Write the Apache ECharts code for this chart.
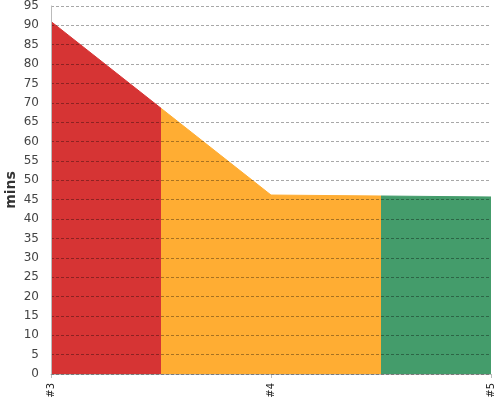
<!DOCTYPE html>
<html><head><meta charset="utf-8">
<script src="https://cdn.jsdelivr.net/npm/echarts@6/dist/echarts.min.js"></script>
<style>html,body{margin:0;padding:0;background:#fff}#c{width:500px;height:400px}</style>
</head><body><div id="c"></div>
<script>
const categories = ['#3', '#4', '#5'];
const values = [91, 46.2, 45.7];
const yTicks = {min: 0, max: 95, interval: 5};
const sectionBreaks = [0.5, 1.5];
const sectionColors = ['#d63434', '#ffad33', '#449c6b'];

const chart = echarts.init(document.getElementById('c'));
chart.setOption({
  animation: false,
  backgroundColor: '#fff',
  grid: {left: 51, right: 9, top: 6, bottom: 26, containLabel: false, outerBoundsMode: 'none'},
  xAxis: {
    type: 'value', min: 0, max: categories.length - 1, interval: 1,
    offset: 4,
    axisLine: {show: true, lineStyle: {color: '#bbb'}},
    axisTick: {show: true, length: 4, lineStyle: {color: '#bbb'}},
    splitLine: {show: false},
    axisLabel: {rotate: 90, fontSize: 10, color: '#222', fontFamily: 'DejaVu Sans', margin: 5,
      formatter: v => categories[Math.round(v)] || ''}
  },
  yAxis: {
    type: 'value', min: yTicks.min, max: yTicks.max, interval: yTicks.interval,
    offset: 4, z: 5,
    name: 'mins', nameLocation: 'middle', nameGap: 29, nameMoveOverlap: false,
    nameTextStyle: {fontSize: 14, fontWeight: 'bold', color: '#333', fontFamily: 'DejaVu Sans'},
    axisLine: {show: true, lineStyle: {color: '#bbb'}},
    axisTick: {show: false},
    axisLabel: {fontSize: 12, color: '#444', fontFamily: 'DejaVu Sans', margin: 8},
    splitLine: {show: true, lineStyle: {color: 'rgba(0,0,0,0.34)', type: [3, 2], width: 1}}
  },
  visualMap: {
    type: 'piecewise', show: false, dimension: 0,
    pieces: [
      {lt: sectionBreaks[0], color: sectionColors[0]},
      {gte: sectionBreaks[0], lt: sectionBreaks[1], color: sectionColors[1]},
      {gte: sectionBreaks[1], color: sectionColors[2]}
    ]
  },
  series: [{
    type: 'line',
    data: values.map((v, i) => [i, v]),
    showSymbol: false,
    lineStyle: {width: 1},
    areaStyle: {opacity: 1},
    z: 2
  }]
});
</script></body></html>
